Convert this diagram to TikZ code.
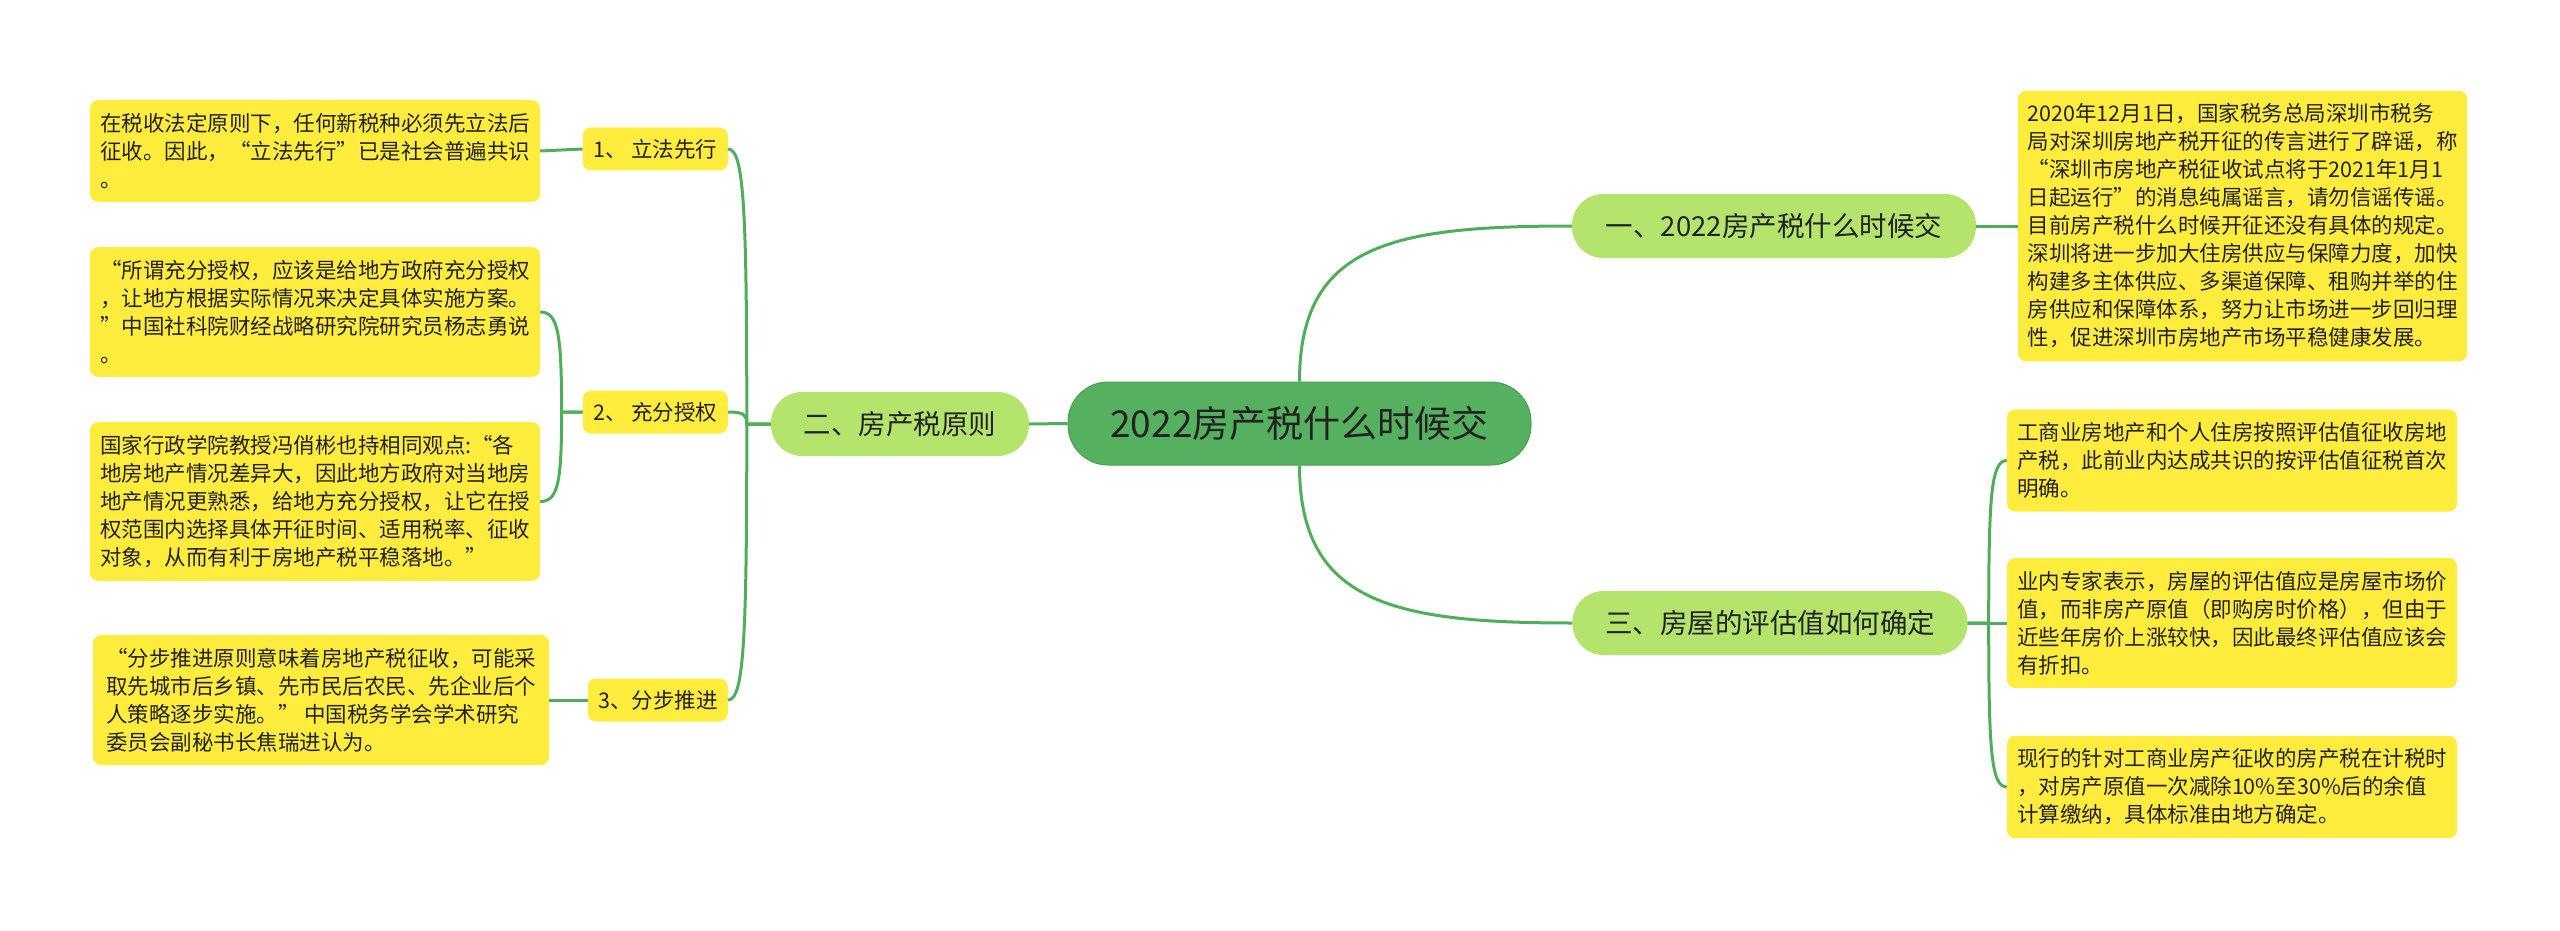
\documentclass[tikz,border=0pt]{standalone}
\usepackage{fontspec}
\setmainfont{Noto Sans CJK SC}
\definecolor{cgreen}{HTML}{55B05F}
\definecolor{cborder}{HTML}{4A9E52}
\definecolor{lgreen}{HTML}{B5E46C}
\definecolor{yel}{HTML}{FFEC3D}
\definecolor{lnk}{HTML}{4FAE5A}
\definecolor{txt}{HTML}{222222}
\begin{document}
\begin{tikzpicture}[x=1pt,y=-1pt,
 central/.style={fill=cgreen, draw=cborder, line width=1pt, rounded corners=40pt, minimum width=463pt, minimum height=83pt, font=\fontsize{37}{44}\selectfont, text=txt, inner sep=0pt},
 topic/.style={fill=lgreen, rounded corners=31pt, minimum height=64pt, font=\fontsize{27.5}{33}\selectfont, text=txt, inner sep=0pt},
 sub/.style={fill=yel, rounded corners=8pt, minimum height=43pt, font=\fontsize{21.5}{28}\selectfont, text=txt, inner sep=0pt},
 leaf/.style={fill=yel, rounded corners=8pt, align=left, font=\fontsize{21.5}{28}\selectfont, text=txt, inner xsep=0pt, inner ysep=13pt},
 link/.style={draw=lnk, line width=3pt}
]
\useasboundingbox (0,0) rectangle (2560,931);

% central and topics
\node[central] (c) at (1299.5,423.5) {2022房产税什么时候交};
\node[topic, minimum width=258pt] (t2) at (900,424) {二、房产税原则};
\node[topic, minimum width=404pt] (t1) at (1774,226) {一、2022房产税什么时候交};
\node[topic, minimum width=395pt] (t3) at (1770,623) {三、房屋的评估值如何确定};

% left sub topics
\node[sub, minimum width=145pt, anchor=east] (s1) at (728,149) {1、 立法先行};
\node[sub, minimum width=145pt, anchor=east] (s2) at (728,412) {2、 充分授权};
\node[sub, minimum width=140pt, anchor=east] (s3) at (728,700) {3、分步推进};

% left leaves
\node[leaf, minimum width=450pt] (l1) at (315,151) {在税收法定原则下，任何新税种必须先立法后\\征收。因此，“立法先行”已是社会普遍共识\\。};
\node[leaf, minimum width=450pt] (l2) at (315,312) {“所谓充分授权，应该是给地方政府充分授权\\，让地方根据实际情况来决定具体实施方案。\\”中国社科院财经战略研究院研究员杨志勇说\\。};
\node[leaf, minimum width=450pt] (l3) at (315,501.5) {国家行政学院教授冯俏彬也持相同观点:“各\\地房地产情况差异大，因此地方政府对当地房\\地产情况更熟悉，给地方充分授权，让它在授\\权范围内选择具体开征时间、适用税率、征收\\对象，从而有利于房地产税平稳落地。”};
\node[leaf, minimum width=456pt] (l4) at (321,700) {“分步推进原则意味着房地产税征收，可能采\\取先城市后乡镇、先市民后农民、先企业后个\\人策略逐步实施。” 中国税务学会学术研究\\委员会副秘书长焦瑞进认为。};

% right leaves
\node[leaf, minimum width=449pt] (r1) at (2242.5,226) {2020年12月1日，国家税务总局深圳市税务\\局对深圳房地产税开征的传言进行了辟谣，称\\“深圳市房地产税征收试点将于2021年1月1\\日起运行”的消息纯属谣言，请勿信谣传谣。\\目前房产税什么时候开征还没有具体的规定。\\深圳将进一步加大住房供应与保障力度，加快\\构建多主体供应、多渠道保障、租购并举的住\\房供应和保障体系，努力让市场进一步回归理\\性，促进深圳市房地产市场平稳健康发展。};
\node[leaf, minimum width=450pt] (r2) at (2232,460.5) {工商业房地产和个人住房按照评估值征收房地\\产税，此前业内达成共识的按评估值征税首次\\明确。};
\node[leaf, minimum width=450pt] (r3) at (2232,623) {业内专家表示，房屋的评估值应是房屋市场价\\值，而非房产原值（即购房时价格），但由于\\近些年房价上涨较快，因此最终评估值应该会\\有折扣。};
\node[leaf, minimum width=450pt] (r4) at (2232,787) {现行的针对工商业房产征收的房产税在计税时\\，对房产原值一次减除10\%至30\%后的余值\\计算缴纳，具体标准由地方确定。};

% connectors
\draw[link] (c.west) -- (t2.east);
\draw[link] (c.north) .. controls +(0,-137) and +(-180,0) .. (t1.west);
\draw[link] (c.south) .. controls +(0,137) and +(-180,0) .. (t3.west);

\draw[link] (t1.east) -- (r1.west);
\draw[link] (t3.east) -- ++(21,0) .. controls +(0,-125) and +(-16,0) .. (r2.west);
\draw[link] (t3.east) -- (r3.west);
\draw[link] (t3.east) -- ++(21,0) .. controls +(0,125) and +(-16,0) .. (r4.west);

\draw[link] (t2.west) -- ++(-24,0) .. controls +(0,-215) and +(16,0) .. (s1.east);
\draw[link] (t2.west) -- ++(-24,0) .. controls +(0,-9) and +(16,0) .. (s2.east);
\draw[link] (t2.west) -- ++(-24,0) .. controls +(0,215) and +(16,0) .. (s3.east);

\draw[link] (s1.west) -- (l1.east);
\draw[link] (s2.west) -- ++(-21,0) .. controls +(0,-78) and +(18,0) .. (l2.east);
\draw[link] (s2.west) -- ++(-21,0) .. controls +(0,70) and +(18,0) .. (l3.east);
\draw[link] (s3.west) -- (l4.east);
\end{tikzpicture}
\end{document}
